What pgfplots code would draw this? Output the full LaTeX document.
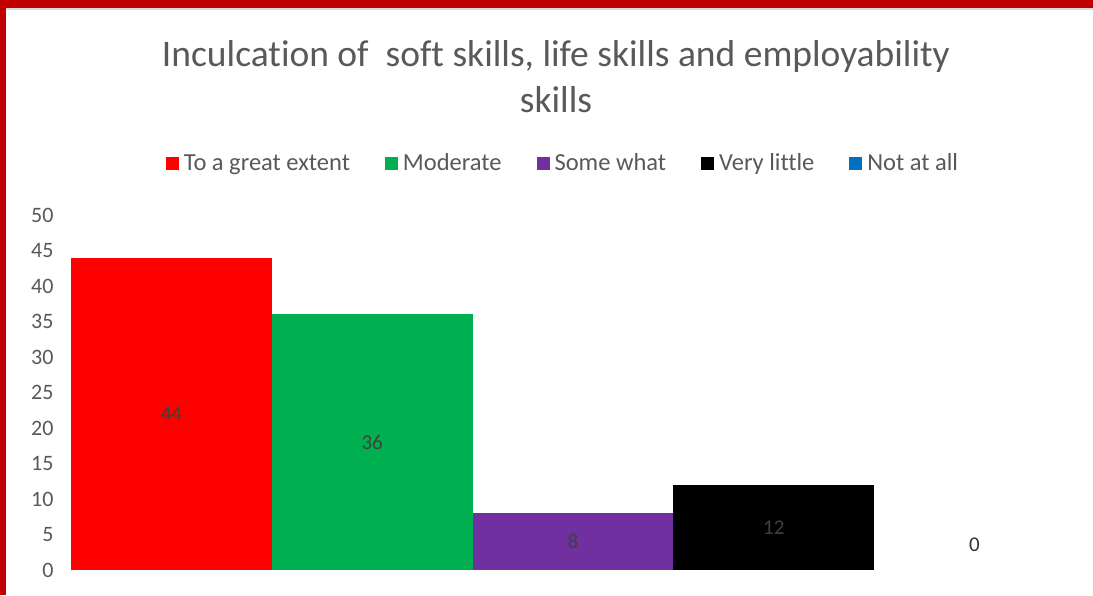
\documentclass[border=0pt]{standalone}
\usepackage{pgfplots}
\pgfplotsset{compat=1.18}
\usepackage{fontspec}
\setmainfont[Ligatures={NoCommon,NoDiscretionary}]{Carlito}
\definecolor{tgray}{HTML}{595959}
\definecolor{lgray}{HTML}{404040}
\definecolor{bred}{HTML}{C00000}
\definecolor{cred}{HTML}{FF0000}
\definecolor{cgreen}{HTML}{00B050}
\definecolor{cpurple}{HTML}{7030A0}
\definecolor{cblue}{HTML}{0070C0}
\begin{document}
\begin{tikzpicture}[x=1pt,y=1pt]
\useasboundingbox (0,0) rectangle (1093,595);
\fill[white] (0,0) rectangle (1093,595);
\fill[gray!30] (0,585) rectangle (1093,587.5);
\fill[bred] (0,587) rectangle (1093,595);
\fill[bred] (0,0) rectangle (6,595);
\node[text=tgray, font=\fontsize{37.5}{46}\selectfont, align=center] at (556,518) {Inculcation of~ soft skills, life skills and employability\\skills};
\begin{axis}[
  at={(71pt,25pt)}, anchor=south west,
  scale only axis, width=1004pt, height=355pt,
  xmin=0, xmax=5, ymin=0, ymax=50,
  ytick={0,5,...,50},
  xtick=\empty,
  hide x axis,
  y axis line style={draw=none},
  ytick style={draw=none},
  yticklabel style={text=tgray, font=\fontsize{22}{26}\selectfont, xshift=-14pt},
  /pgf/number format/assume math mode=true,
  clip=false,
  legend columns=5,
  legend style={draw=none, fill=none, at={(0.49,1.146)}, anchor=center,
    font=\fontsize{24.5}{28}\selectfont, text=tgray,
    column sep=3pt,
    /tikz/every even column/.append style={column sep=33pt}},
  legend image code/.code={\fill[#1] (0pt,-6.5pt) rectangle (13pt,6.5pt);},
  visualization depends on={rawy \as \ry},
  nodes near coords,
  nodes near coords style={anchor=center, text=lgray, font=\fontsize{21}{24}\selectfont, yshift=-3.55pt*\ry},
]
\addplot[ybar, bar width=1, bar shift=0pt, draw=none, fill=cred] coordinates {(0.5,44)};
\addlegendentry{To a great extent}
\addplot[ybar, bar width=1, bar shift=0pt, draw=none, fill=cgreen] coordinates {(1.5,36)};
\addlegendentry{Moderate}
\addplot[ybar, bar width=1, bar shift=0pt, draw=none, fill=cpurple] coordinates {(2.5,8)};
\addlegendentry{Some what}
\addplot[ybar, bar width=1, bar shift=0pt, draw=none, fill=black] coordinates {(3.5,12)};
\addlegendentry{Very little}
\addlegendimage{draw=none, fill=cblue}
\addlegendentry{Not at all}
\addplot[ybar, bar width=1, bar shift=0pt, draw=none, fill=none, forget plot, nodes near coords style={yshift=25pt, text=black!80}] coordinates {(4.5,0)};
\end{axis}
\end{tikzpicture}
\end{document}
